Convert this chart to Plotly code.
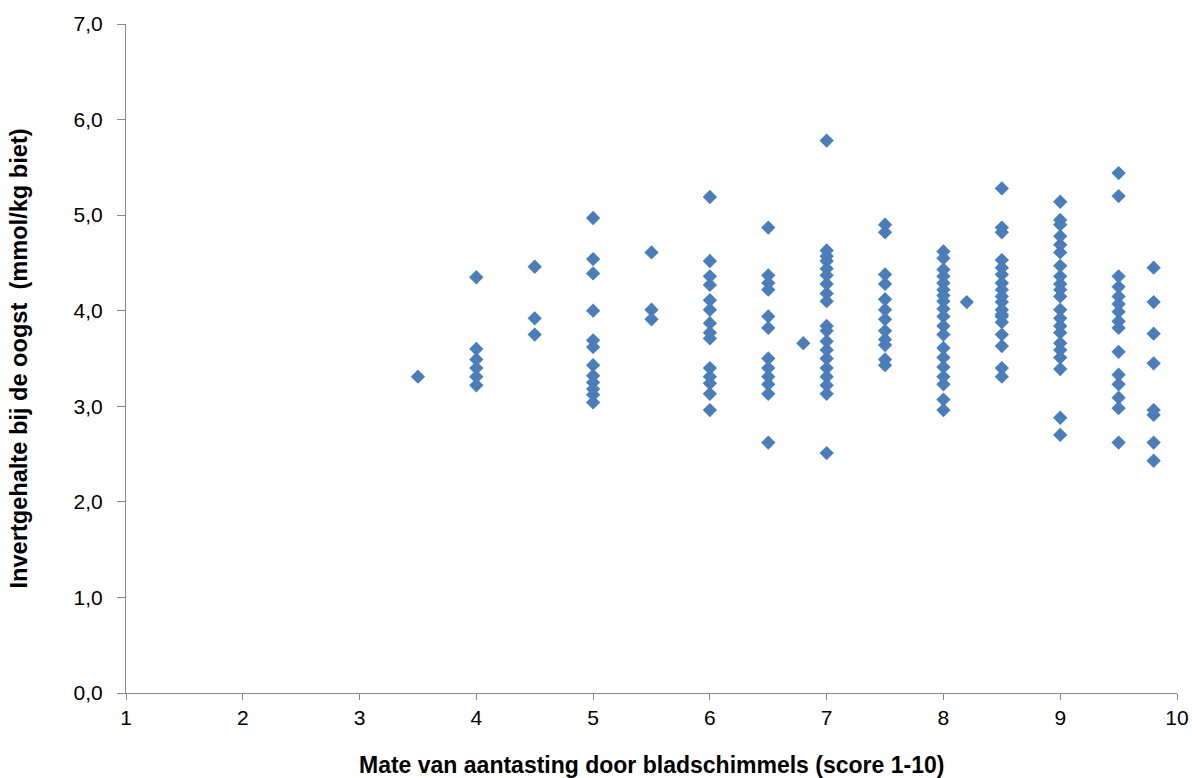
import plotly.graph_objects as go

# Leaf-mould infection score (x) against invert content at harvest (y), one list per score column
score_35 = [3.5]
invert_35 = [3.31]

score_4 = [4.0] * 6
invert_4 = [4.35, 3.60, 3.49, 3.40, 3.31, 3.22]

score_45 = [4.5] * 3
invert_45 = [4.46, 3.92, 3.75]

score_5 = [5.0] * 12
invert_5 = [4.97, 4.54, 4.39, 4.00, 3.69, 3.62, 3.43, 3.32, 3.25, 3.18, 3.12, 3.04]

score_55 = [5.5] * 3
invert_55 = [4.61, 4.01, 3.91]

score_6 = [6.0] * 14
invert_6 = [5.19, 4.52, 4.36, 4.27, 4.11, 4.01, 3.87, 3.77, 3.71, 3.40, 3.31, 3.24, 3.13, 2.96]

score_65 = [6.5] * 12
invert_65 = [4.87, 4.37, 4.29, 4.22, 3.94, 3.82, 3.50, 3.40, 3.31, 3.23, 3.13, 2.62]

score_68 = [6.8]
invert_68 = [3.66]

score_7 = [7.0] * 19
invert_7 = [5.78, 4.63, 4.57, 4.52, 4.44, 4.37, 4.28, 4.18, 4.10, 3.84, 3.79, 3.68, 3.59, 3.50,
            3.40, 3.31, 3.22, 3.13, 2.51]

score_75 = [7.5] * 12
invert_75 = [4.90, 4.82, 4.38, 4.28, 4.12, 4.01, 3.91, 3.79, 3.70, 3.64, 3.49, 3.43]

score_8 = [8.0] * 19
invert_8 = [4.62, 4.55, 4.43, 4.36, 4.29, 4.22, 4.16, 4.10, 4.02, 3.94, 3.84, 3.75, 3.61, 3.51,
            3.41, 3.31, 3.23, 3.07, 2.96]

score_82 = [8.2]
invert_82 = [4.09]

score_85 = [8.5] * 18
invert_85 = [5.28, 4.87, 4.82, 4.53, 4.45, 4.38, 4.29, 4.22, 4.15, 4.09, 4.01, 3.96, 3.94, 3.88,
             3.75, 3.63, 3.40, 3.31]

score_9 = [9.0] * 21
invert_9 = [5.14, 4.95, 4.90, 4.78, 4.69, 4.61, 4.47, 4.36, 4.28, 4.22, 4.15, 4.01, 3.92, 3.84,
            3.77, 3.66, 3.59, 3.51, 3.39, 2.88, 2.70]

score_95 = [9.5] * 15
invert_95 = [5.44, 5.20, 4.36, 4.25, 4.15, 4.07, 3.99, 3.89, 3.82, 3.57, 3.33, 3.23, 3.09, 2.98, 2.62]

score_98 = [9.8] * 8
invert_98 = [4.45, 4.09, 3.76, 3.45, 2.96, 2.91, 2.62, 2.43]

x_values = (score_35 + score_4 + score_45 + score_5 + score_55 + score_6 + score_65 + score_68
            + score_7 + score_75 + score_8 + score_82 + score_85 + score_9 + score_95 + score_98)
y_values = (invert_35 + invert_4 + invert_45 + invert_5 + invert_55 + invert_6 + invert_65 + invert_68
            + invert_7 + invert_75 + invert_8 + invert_82 + invert_85 + invert_9 + invert_95 + invert_98)

x_ticks = [1, 2, 3, 4, 5, 6, 7, 8, 9, 10]
y_ticks = [0, 1, 2, 3, 4, 5, 6, 7]

x_title = "Mate van aantasting door bladschimmels (score 1-10)"
y_title = "Invertgehalte bij de oogst  (mmol/kg biet)"

FONT = "Liberation Sans, Arial, sans-serif"

fig = go.Figure(
    go.Scatter(
        x=x_values,
        y=y_values,
        mode="markers",
        marker=dict(symbol="diamond", size=11, color="#4A7EBB", line=dict(width=0)),
        showlegend=False,
    )
)

tick_font = dict(family=FONT, size=21, color="#000000")

fig.update_xaxes(
    range=[1, 10],
    tickvals=x_ticks,
    ticktext=[str(t) for t in x_ticks],
    showline=True,
    linecolor="#878787",
    linewidth=1,
    ticks="outside",
    ticklen=6,
    tickcolor="#878787",
    showgrid=False,
    zeroline=False,
    tickfont=tick_font,
    automargin=False,
)
fig.update_yaxes(
    range=[0, 7],
    tickvals=y_ticks,
    tickformat=".1f",
    showline=True,
    linecolor="#878787",
    linewidth=1,
    ticks="outside",
    ticklen=8,
    tickcolor="#878787",
    showgrid=False,
    zeroline=False,
    tickfont=tick_font,
    ticklabelstandoff=10,
    automargin=False,
)

# Axis titles placed at fixed pixel offsets from the plot area
fig.add_annotation(
    text=f"<b>{x_title}</b>",
    xref="paper", yref="paper", x=0.5, y=0,
    xanchor="center", yanchor="top", yshift=-58,
    borderpad=0,
    showarrow=False,
    font=dict(family=FONT, size=23, color="#000000"),
)
fig.add_annotation(
    text=f"<b>{y_title}</b>",
    xref="paper", yref="paper", x=0, y=0.5,
    xanchor="center", yanchor="middle", xshift=-108,
    textangle=-90,
    showarrow=False,
    font=dict(family=FONT, size=23.6, color="#000000"),
)

fig.update_layout(
    width=1192,
    height=778,
    margin=dict(l=126, r=15, t=24, b=85),
    paper_bgcolor="#FFFFFF",
    plot_bgcolor="#FFFFFF",
    separators=",.",
)

fig.write_html("out.html")
